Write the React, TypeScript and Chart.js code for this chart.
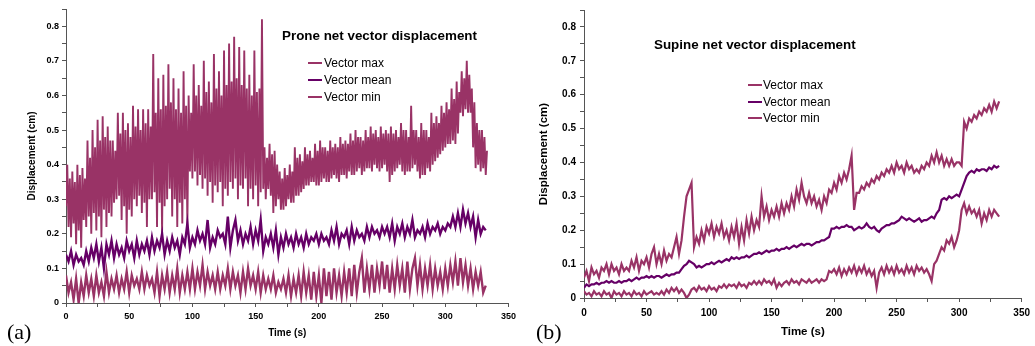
import React, { useEffect, useRef } from 'react';
import { Chart, registerables } from 'chart.js';

Chart.register(...registerables);

// Sampling steps (seconds) of the series below
const PRONE_MAX_STEP = 1;
const STEP = 2;

const Y_TICKS = [0, 0.05, 0.1, 0.15, 0.2, 0.25, 0.3, 0.35, 0.4, 0.45, 0.5, 0.55, 0.6, 0.65, 0.7, 0.75, 0.8, 0.85];
const Y_LABELS = ['0', '0.1', '0.2', '0.3', '0.4', '0.5', '0.6', '0.7', '0.8'];
const X_TICKS = [0, 25, 50, 75, 100, 125, 150, 175, 200, 225, 250, 275, 300, 325, 350];
const X_LABELS = ['0', '50', '100', '150', '200', '250', '300', '350'];

const SERIES_NAMES = ['Vector max', 'Vector mean', 'Vector min'];

// (a) Prone — max sampled every 1 s
const PRONE_MAX = [
  0.28, 0.40, 0.22, 0.36, 0.19, 0.38, 0.23, 0.35, 0.17, 0.40, 0.21, 0.37,
  0.16, 0.39, 0.24, 0.36, 0.22, 0.47, 0.25, 0.42, 0.20, 0.50, 0.26, 0.45,
  0.21, 0.53, 0.25, 0.47, 0.19, 0.54, 0.27, 0.48, 0.22, 0.51, 0.26, 0.47,
  0.25, 0.47, 0.29, 0.44, 0.30, 0.55, 0.31, 0.49, 0.24, 0.55, 0.28, 0.50,
  0.20, 0.52, 0.27, 0.48, 0.25, 0.57, 0.30, 0.51, 0.28, 0.56, 0.31, 0.50,
  0.26, 0.56, 0.29, 0.52, 0.22, 0.56, 0.30, 0.51, 0.30, 0.72, 0.32, 0.55,
  0.22, 0.65, 0.29, 0.56, 0.20, 0.66, 0.28, 0.57, 0.30, 0.69, 0.33, 0.58,
  0.25, 0.65, 0.30, 0.56, 0.22, 0.62, 0.29, 0.55, 0.23, 0.67, 0.30, 0.57,
  0.22, 0.60, 0.38, 0.55, 0.36, 0.69, 0.38, 0.60, 0.34, 0.63, 0.37, 0.57,
  0.33, 0.70, 0.36, 0.61, 0.31, 0.64, 0.35, 0.58, 0.29, 0.72, 0.34, 0.62,
  0.32, 0.67, 0.35, 0.60, 0.28, 0.73, 0.33, 0.63, 0.31, 0.75, 0.35, 0.64,
  0.33, 0.77, 0.36, 0.65, 0.30, 0.74, 0.34, 0.63, 0.33, 0.73, 0.36, 0.62,
  0.28, 0.66, 0.33, 0.60, 0.30, 0.73, 0.34, 0.61, 0.28, 0.62, 0.32, 0.82,
  0.33, 0.45, 0.30, 0.42, 0.33, 0.46, 0.31, 0.43, 0.26, 0.44, 0.28, 0.40,
  0.30, 0.38, 0.27, 0.36, 0.27, 0.39, 0.28, 0.37, 0.30, 0.40, 0.29, 0.38,
  0.29, 0.45, 0.31, 0.42, 0.31, 0.43, 0.32, 0.41, 0.33, 0.45, 0.34, 0.43,
  0.34, 0.44, 0.35, 0.42, 0.35, 0.46, 0.34, 0.44, 0.34, 0.47, 0.35, 0.45,
  0.36, 0.45, 0.35, 0.44, 0.35, 0.47, 0.36, 0.45, 0.37, 0.46, 0.36, 0.45,
  0.35, 0.48, 0.37, 0.46, 0.37, 0.47, 0.36, 0.46, 0.38, 0.49, 0.37, 0.47,
  0.37, 0.50, 0.38, 0.48, 0.39, 0.48, 0.37, 0.47, 0.38, 0.50, 0.39, 0.48,
  0.39, 0.51, 0.38, 0.49, 0.40, 0.50, 0.39, 0.48, 0.38, 0.51, 0.39, 0.49,
  0.40, 0.50, 0.38, 0.49, 0.35, 0.51, 0.37, 0.49, 0.38, 0.50, 0.39, 0.48,
  0.40, 0.52, 0.38, 0.50, 0.37, 0.50, 0.38, 0.48, 0.38, 0.57, 0.39, 0.50,
  0.40, 0.50, 0.38, 0.48, 0.36, 0.52, 0.37, 0.50, 0.37, 0.50, 0.39, 0.48,
  0.38, 0.55, 0.40, 0.52, 0.41, 0.54, 0.42, 0.52, 0.43, 0.57, 0.44, 0.55,
  0.45, 0.58, 0.46, 0.56, 0.46, 0.62, 0.47, 0.59, 0.46, 0.64, 0.49, 0.61,
  0.55, 0.67, 0.54, 0.65, 0.56, 0.70, 0.55, 0.66, 0.55, 0.62, 0.45, 0.58,
  0.39, 0.52, 0.40, 0.50, 0.38, 0.50, 0.39, 0.48, 0.37, 0.44,
];
// (a) Prone — mean and min sampled every 2 s
const PRONE_MEAN = [
  0.14, 0.12, 0.15, 0.11, 0.14, 0.12, 0.13, 0.11, 0.15, 0.12,
  0.16, 0.13, 0.17, 0.12, 0.16, 0.10, 0.17, 0.14, 0.18, 0.13,
  0.17, 0.14, 0.16, 0.13, 0.18, 0.15, 0.17, 0.13, 0.18, 0.14,
  0.17, 0.15, 0.18, 0.14, 0.19, 0.15, 0.18, 0.16, 0.20, 0.14,
  0.18, 0.15, 0.19, 0.16, 0.18, 0.14, 0.19, 0.17, 0.23, 0.16,
  0.19, 0.17, 0.21, 0.18, 0.20, 0.17, 0.24, 0.16, 0.19, 0.17,
  0.21, 0.19, 0.20, 0.17, 0.25, 0.16, 0.21, 0.24, 0.18, 0.21,
  0.17, 0.20, 0.18, 0.22, 0.17, 0.21, 0.18, 0.24, 0.15, 0.19,
  0.17, 0.20, 0.16, 0.21, 0.14, 0.19, 0.16, 0.20, 0.17, 0.19,
  0.16, 0.20, 0.17, 0.19, 0.16, 0.20, 0.17, 0.19, 0.18, 0.20,
  0.17, 0.20, 0.18, 0.19, 0.17, 0.21, 0.18, 0.22, 0.17, 0.20,
  0.19, 0.21, 0.17, 0.22, 0.18, 0.21, 0.19, 0.20, 0.18, 0.22,
  0.19, 0.22, 0.20, 0.21, 0.19, 0.22, 0.20, 0.22, 0.19, 0.23,
  0.18, 0.22, 0.20, 0.23, 0.19, 0.22, 0.20, 0.24, 0.19, 0.21,
  0.20, 0.22, 0.19, 0.23, 0.20, 0.22, 0.21, 0.23, 0.20, 0.22,
  0.21, 0.23, 0.22, 0.25, 0.22, 0.26, 0.22, 0.27, 0.23, 0.26,
  0.22, 0.25, 0.19, 0.24, 0.20, 0.22, 0.21,
];
const PRONE_MIN = [
  0.08, 0.03, 0.06, 0.01, 0.07, 0.00, 0.06, 0.02, 0.08, 0.03,
  0.07, 0.02, 0.08, 0.03, 0.06, 0.02, 0.09, 0.03, 0.07, 0.04,
  0.08, 0.03, 0.07, 0.04, 0.09, 0.03, 0.08, 0.05, 0.07, 0.04,
  0.09, 0.04, 0.08, 0.05, 0.07, 0.03, 0.09, 0.02, 0.08, 0.04,
  0.09, 0.03, 0.08, 0.04, 0.10, 0.03, 0.08, 0.04, 0.09, 0.04,
  0.10, 0.04, 0.09, 0.05, 0.11, 0.04, 0.09, 0.05, 0.08, 0.04,
  0.09, 0.04, 0.08, 0.05, 0.10, 0.04, 0.09, 0.05, 0.08, 0.03,
  0.09, 0.04, 0.10, 0.05, 0.08, 0.04, 0.09, 0.03, 0.08, 0.04,
  0.07, 0.04, 0.08, 0.03, 0.06, 0.04, 0.07, 0.03, 0.08, 0.02,
  0.07, 0.03, 0.08, 0.02, 0.09, 0.03, 0.08, 0.01, 0.09, 0.02,
  0.08, 0.00, 0.10, 0.02, 0.09, 0.01, 0.10, 0.03, 0.08, 0.02,
  0.09, 0.03, 0.10, 0.02, 0.11, 0.03, 0.09, 0.13, 0.03, 0.10,
  0.04, 0.11, 0.03, 0.10, 0.05, 0.12, 0.04, 0.11, 0.03, 0.10,
  0.04, 0.11, 0.05, 0.10, 0.03, 0.12, 0.04, 0.10, 0.13, 0.05,
  0.11, 0.04, 0.10, 0.05, 0.11, 0.04, 0.10, 0.05, 0.09, 0.04,
  0.10, 0.05, 0.11, 0.06, 0.12, 0.05, 0.13, 0.06, 0.11, 0.05,
  0.10, 0.04, 0.09, 0.05, 0.09, 0.03, 0.05,
];

// (b) Supine — every 2 s
const SUPINE_MAX = [
  0.06, 0.08, 0.05, 0.09, 0.07, 0.08, 0.06, 0.09, 0.08, 0.10,
  0.07, 0.10, 0.08, 0.09, 0.07, 0.10, 0.08, 0.09, 0.08, 0.11,
  0.09, 0.12, 0.08, 0.11, 0.10, 0.12, 0.09, 0.13, 0.15, 0.10,
  0.13, 0.10, 0.14, 0.11, 0.13, 0.12, 0.15, 0.18, 0.13, 0.17,
  0.24, 0.30, 0.32, 0.34, 0.15, 0.18, 0.16, 0.20, 0.17, 0.21,
  0.19, 0.22, 0.18, 0.21, 0.19, 0.22, 0.18, 0.20, 0.17, 0.21,
  0.18, 0.22, 0.16, 0.21, 0.17, 0.23, 0.19, 0.24, 0.20, 0.23,
  0.21, 0.30, 0.24, 0.27, 0.23, 0.26, 0.24, 0.27, 0.24, 0.28,
  0.25, 0.28, 0.26, 0.30, 0.27, 0.32, 0.29, 0.34, 0.30, 0.28,
  0.31, 0.28, 0.30, 0.27, 0.29, 0.26, 0.30, 0.28, 0.32, 0.31,
  0.34, 0.32, 0.36, 0.34, 0.37, 0.35, 0.38, 0.42, 0.26, 0.31,
  0.31, 0.33, 0.32, 0.34, 0.33, 0.35, 0.34, 0.36, 0.35, 0.37,
  0.36, 0.38, 0.37, 0.39, 0.37, 0.40, 0.38, 0.39, 0.37, 0.40,
  0.38, 0.39, 0.37, 0.38, 0.37, 0.39, 0.38, 0.40, 0.39, 0.42,
  0.40, 0.43, 0.40, 0.42, 0.39, 0.41, 0.39, 0.41, 0.39, 0.40,
  0.40, 0.39, 0.52, 0.50, 0.53, 0.52, 0.54, 0.53, 0.55, 0.54,
  0.56, 0.55, 0.57, 0.55, 0.58, 0.56, 0.58,
];
const SUPINE_MEAN = [
  0.030, 0.040, 0.035, 0.040, 0.040, 0.045, 0.040, 0.045, 0.045, 0.050,
  0.045, 0.050, 0.045, 0.045, 0.050, 0.045, 0.050, 0.050, 0.055, 0.050,
  0.055, 0.060, 0.055, 0.060, 0.060, 0.065, 0.060, 0.065, 0.060, 0.065,
  0.065, 0.060, 0.065, 0.070, 0.065, 0.070, 0.070, 0.075, 0.075, 0.085,
  0.095, 0.100, 0.110, 0.105, 0.100, 0.090, 0.095, 0.090, 0.095, 0.100,
  0.100, 0.105, 0.100, 0.105, 0.110, 0.105, 0.110, 0.115, 0.110, 0.120,
  0.115, 0.120, 0.115, 0.120, 0.120, 0.125, 0.120, 0.125, 0.130, 0.130,
  0.135, 0.130, 0.135, 0.140, 0.135, 0.140, 0.140, 0.145, 0.140, 0.145,
  0.145, 0.150, 0.145, 0.150, 0.155, 0.150, 0.155, 0.160, 0.155, 0.160,
  0.160, 0.155, 0.160, 0.165, 0.165, 0.170, 0.170, 0.175, 0.180, 0.205,
  0.205, 0.210, 0.205, 0.210, 0.210, 0.215, 0.210, 0.210, 0.200, 0.205,
  0.210, 0.205, 0.210, 0.220, 0.210, 0.205, 0.210, 0.200, 0.195, 0.205,
  0.210, 0.215, 0.215, 0.220, 0.220, 0.225, 0.230, 0.240, 0.235, 0.230,
  0.235, 0.230, 0.225, 0.230, 0.235, 0.225, 0.230, 0.230, 0.235, 0.240,
  0.235, 0.250, 0.260, 0.290, 0.295, 0.290, 0.300, 0.295, 0.300, 0.305,
  0.300, 0.320, 0.340, 0.360, 0.370, 0.375, 0.370, 0.380, 0.375, 0.380,
  0.380, 0.375, 0.385, 0.380, 0.390, 0.385, 0.390,
];
const SUPINE_MIN = [
  0.020, 0.010, 0.015, 0.005, 0.020, 0.010, 0.015, 0.005, 0.020, 0.010,
  0.015, 0.000, 0.020, 0.010, 0.015, 0.005, 0.020, 0.010, 0.015, 0.005,
  0.020, 0.010, 0.015, 0.005, 0.020, 0.010, 0.015, 0.020, 0.010, 0.015,
  0.010, 0.020, 0.010, 0.025, 0.015, 0.030, 0.020, 0.030, 0.015, 0.025,
  0.015, 0.000, 0.010, 0.025, 0.030, 0.020, 0.035, 0.025, 0.030, 0.020,
  0.035, 0.025, 0.030, 0.020, 0.035, 0.030, 0.040, 0.030, 0.040, 0.035,
  0.040, 0.030, 0.045, 0.035, 0.040, 0.030, 0.045, 0.040, 0.050, 0.040,
  0.050, 0.040, 0.055, 0.045, 0.050, 0.040, 0.055, 0.030, 0.045, 0.035,
  0.045, 0.050, 0.040, 0.055, 0.045, 0.050, 0.040, 0.055, 0.050, 0.045,
  0.055, 0.045, 0.050, 0.055, 0.045, 0.055, 0.050, 0.055, 0.080, 0.075,
  0.085, 0.070, 0.090, 0.065, 0.085, 0.070, 0.090, 0.075, 0.095, 0.070,
  0.090, 0.075, 0.095, 0.070, 0.085, 0.065, 0.080, 0.030, 0.075, 0.090,
  0.070, 0.095, 0.075, 0.090, 0.070, 0.095, 0.075, 0.085, 0.070, 0.095,
  0.075, 0.090, 0.070, 0.095, 0.080, 0.090, 0.075, 0.085, 0.070, 0.050,
  0.100, 0.110, 0.130, 0.150, 0.140, 0.170, 0.160, 0.180, 0.150, 0.170,
  0.200, 0.260, 0.280, 0.250, 0.270, 0.250, 0.260, 0.240, 0.260, 0.220,
  0.250, 0.230, 0.260, 0.240, 0.260, 0.250, 0.240,
];

const MAX_COLOR = '#993366';
const MEAN_COLOR = '#660066';
const MIN_COLOR = '#993366';
const SANS = 'Arial, "Liberation Sans", sans-serif';
const AXIS_COLOR = '#555555';

type SeriesDef = { data: number[]; step: number; width: number };

type PanelProps = {
  left: number;
  width: number;
  max: SeriesDef;
  mean: SeriesDef;
  min: SeriesDef;
  pad: { top: number; right: number };
  yWidth: number;
  xHeight: number;
  tickFont: number;
  yTickPad: number;
  xTickPad: number;
  titleFont: number;
  yTitlePad: number;
  xTitlePad: number;
};

function toPoints(arr: number[], step: number) {
  return arr.map((v, i) => ({ x: i * step, y: v }));
}

function ChartPanel(p: PanelProps) {
  const ref = useRef<HTMLCanvasElement | null>(null);
  useEffect(() => {
    if (!ref.current) return;
    const ds = (label: string, s: SeriesDef, color: string) => ({
      label,
      data: toPoints(s.data, s.step),
      borderColor: color,
      backgroundColor: color,
      borderWidth: s.width,
      pointRadius: 0,
      tension: 0,
      fill: false,
    });
    const chart = new Chart(ref.current, {
      type: 'line',
      data: {
        datasets: [
          ds(SERIES_NAMES[2], p.min, MIN_COLOR),
          ds(SERIES_NAMES[1], p.mean, MEAN_COLOR),
          ds(SERIES_NAMES[0], p.max, MAX_COLOR),
        ],
      },
      options: {
        animation: false,
        responsive: false,
        events: [],
        layout: { padding: { left: 0, top: p.pad.top, right: p.pad.right, bottom: 0 }, autoPadding: false },
        plugins: { legend: { display: false }, tooltip: { enabled: false }, title: { display: false } },
        scales: {
          x: {
            type: 'linear',
            position: 'bottom',
            min: 0,
            max: 350,
            afterBuildTicks: (s: any) => {
              s.ticks = X_TICKS.map((v) => ({ value: v }));
            },
            afterFit: (s: any) => {
              s.height = p.xHeight;
            },
            grid: { drawOnChartArea: false, drawTicks: true, tickLength: 4, color: AXIS_COLOR, lineWidth: 1 },
            border: { display: true, color: AXIS_COLOR, width: 1 },
            ticks: {
              autoSkip: false,
              maxRotation: 0,
              minRotation: 0,
              padding: p.xTickPad,
              color: '#000',
              font: { family: SANS, size: p.tickFont, weight: 'bold' },
              callback: (v: any) => {
                const s = String(v);
                return X_LABELS.includes(s) ? s : '';
              },
            },
            title: {
              display: true,
              text: 'Time (s)',
              color: '#000',
              font: { family: SANS, size: p.titleFont, weight: 'bold' },
              padding: { top: 0, bottom: p.xTitlePad },
            },
          },
          y: {
            type: 'linear',
            min: 0,
            max: 0.85,
            afterBuildTicks: (s: any) => {
              s.ticks = Y_TICKS.map((v) => ({ value: v }));
            },
            afterFit: (s: any) => {
              s.width = p.yWidth;
            },
            grid: { drawOnChartArea: false, drawTicks: true, tickLength: 4, color: AXIS_COLOR, lineWidth: 1 },
            border: { display: true, color: AXIS_COLOR, width: 1 },
            ticks: {
              autoSkip: false,
              padding: p.yTickPad,
              color: '#000',
              font: { family: SANS, size: p.tickFont, weight: 'bold' },
              callback: (v: any) => {
                const s = String(Math.round(Number(v) * 100) / 100);
                return Y_LABELS.includes(s) ? s : '';
              },
            },
            title: {
              display: true,
              text: 'Displacement (cm)',
              color: '#000',
              font: { family: SANS, size: p.titleFont, weight: 'bold' },
              padding: { top: p.yTitlePad, bottom: 0 },
            },
          },
        },
      } as any,
    });
    return () => chart.destroy();
  }, []);
  return (
    <canvas
      ref={ref}
      width={p.width}
      height={346}
      style={{ position: 'absolute', left: p.left, top: 0, width: p.width, height: 346 }}
    />
  );
}

function Legend({ lineX, textX, rows }: { lineX: number; textX: number; rows: number[] }) {
  const colors = [MAX_COLOR, MEAN_COLOR, MIN_COLOR];
  return (
    <>
      {SERIES_NAMES.map((name, i) => (
        <React.Fragment key={name}>
          <div
            style={{
              position: 'absolute',
              left: lineX,
              top: rows[i] - 1,
              width: 14,
              height: 2,
              background: colors[i],
            }}
          />
          <div
            style={{
              position: 'absolute',
              left: textX,
              top: rows[i] - 7,
              fontFamily: SANS,
              fontSize: 12,
              lineHeight: '14px',
              color: '#000',
              whiteSpace: 'nowrap',
            }}
          >
            {name}
          </div>
        </React.Fragment>
      ))}
    </>
  );
}

const titleStyle = (left: number, top: number): React.CSSProperties => ({
  position: 'absolute',
  left,
  top,
  fontFamily: SANS,
  fontWeight: 'bold',
  fontSize: 13.4,
  lineHeight: '16px',
  whiteSpace: 'nowrap',
  color: '#000',
});

const panelLabelStyle = (left: number): React.CSSProperties => ({
  position: 'absolute',
  left,
  top: 319,
  fontFamily: '"Liberation Serif", "Times New Roman", serif',
  fontSize: 22,
  lineHeight: '26px',
  color: '#000',
});

export default function App() {
  return (
    <div
      style={{
        position: 'fixed',
        left: 0,
        top: 0,
        width: 1035,
        height: 346,
        background: '#fff',
        overflow: 'hidden',
      }}
    >
      <ChartPanel
        left={0}
        width={520}
        max={{ data: PRONE_MAX, step: PRONE_MAX_STEP, width: 1.9 }}
        mean={{ data: PRONE_MEAN, step: STEP, width: 2.4 }}
        min={{ data: PRONE_MIN, step: STEP, width: 2.4 }}
        pad={{ top: 9, right: 9 }}
        yWidth={66}
        xHeight={43}
        tickFont={9}
        yTickPad={3}
        xTickPad={4}
        titleFont={10}
        yTitlePad={26}
        xTitlePad={7}
      />
      <ChartPanel
        left={520}
        width={515}
        max={{ data: SUPINE_MAX, step: STEP, width: 2.2 }}
        mean={{ data: SUPINE_MEAN, step: STEP, width: 2.2 }}
        min={{ data: SUPINE_MIN, step: STEP, width: 2.2 }}
        pad={{ top: 9, right: 11 }}
        yWidth={64}
        xHeight={48}
        tickFont={10}
        yTickPad={4}
        xTickPad={5}
        titleFont={11.5}
        yTitlePad={17}
        xTitlePad={7}
      />
      <div style={titleStyle(282, 28)}>Prone net vector displacement</div>
      <Legend lineX={308} textX={324} rows={[63, 80, 97]} />
      <div style={titleStyle(654, 37)}>Supine net vector displacement</div>
      <Legend lineX={748} textX={763} rows={[85, 102, 118]} />
      <div style={panelLabelStyle(7)}>(a)</div>
      <div style={panelLabelStyle(536)}>(b)</div>
    </div>
  );
}
